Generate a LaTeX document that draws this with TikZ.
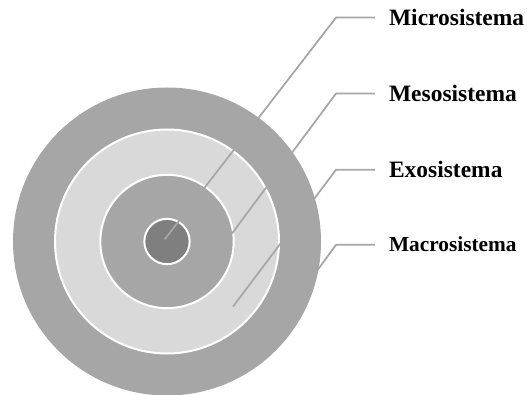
\documentclass[tikz,border=0pt]{standalone}
\usepackage{fontspec}
\setmainfont{Liberation Serif}
\definecolor{ringdark}{HTML}{A6A6A6}
\definecolor{ringlight}{HTML}{D9D9D9}
\definecolor{core}{HTML}{7F7F7F}

\begin{document}
\begin{tikzpicture}[x=0.75pt,y=-0.75pt]
  \tikzstyle{ring}=[draw=white,line width=1.5pt]
  \tikzstyle{leader}=[draw=ringdark,line width=1.3pt]
  \tikzstyle{sysname}=[anchor=west,inner xsep=10.5pt,inner ysep=0pt,
                       font=\bfseries\fontsize{17.6}{20}\selectfont]
  \useasboundingbox (0,0) rectangle (527,395);

  % the four rings
  \coordinate (O) at (167,241.5);
  \fill[ringdark] (O) circle (115.5pt);
  \filldraw[ring,fill=ringlight] (O) circle (84pt);
  \filldraw[ring,fill=ringdark] (O) circle (50pt);
  \filldraw[ring,fill=core] (O) circle (17pt);

  % labels
  \node[sysname] (micro) at (374.8,17.5)  {Microsistema};
  \node[sysname] (meso)  at (374.8,93.4)  {Mesosistema};
  \node[sysname] (exo)   at (374.8,169.7) {Exosistema};
  \node[sysname,font=\bfseries\fontsize{16}{18}\selectfont]
                 (macro) at (374.8,244.7) {Macrosistema};

  % leader lines
  \coordinate (pmicro) at (164.7,239.3);
  \coordinate (pmeso)  at (231.9,233.6);
  \coordinate (pexo)   at (233,306.6);
  \coordinate (pmacro) at (277.7,324.7);
  \coordinate (kmicro) at (336.1,17.5);
  \coordinate (kmeso)  at (336.1,93.4);
  \coordinate (kexo)   at (336.1,169.7);
  \coordinate (kmacro) at (336.1,244.7);

  \draw[leader] (pmicro) -- (kmicro) -- (micro.west);
  \draw[leader] (pmeso)  -- (kmeso)  -- (meso.west);
  \draw[leader] (pexo)   -- (kexo)   -- (exo.west);
  \draw[leader] (pmacro) -- (kmacro) -- (macro.west);
\end{tikzpicture}
\end{document}
